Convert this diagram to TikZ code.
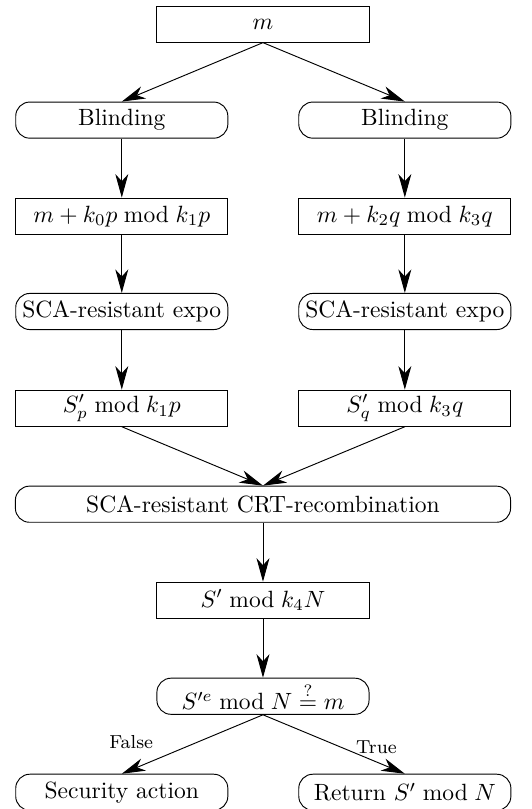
\documentclass[tikz,border=0pt]{standalone}
\usepackage{amsmath,amssymb}
\usepackage{tikz}
\usetikzlibrary{shapes,positioning,arrows.meta}
\tikzset{blk/.style={rectangle,draw,minimum width=3.17cm,minimum height=0.54cm,inner sep=0pt}}
\tikzset{rnd/.style={rectangle,rounded corners=6pt,draw,minimum width=3.17cm,minimum height=0.54cm,inner sep=0pt}}
\tikzset{lbl/.style={font=\footnotesize}}

\begin{document}
\begin{tikzpicture}[>={Stealth[length=10pt,width=5.5pt,inset=3pt]}]
    \useasboundingbox (0,0) rectangle (7.95,-12.09);
    \node[blk] (m)at (3.93,-0.36) {$m$};
    \node[rnd] (bl1)at (1.82,-1.795) {Blinding};
    \node[rnd] (bl2)at (6.05,-1.795) {Blinding};
    \node[blk] (x1)at (1.82,-3.23) {$m+k_0p \bmod k_1p$};
    \node[blk] (x2)at (6.05,-3.23) {$m+k_2q \bmod k_3q$};
    \node[rnd] (e1)at (1.82,-4.655) {SCA-resistant expo};
    \node[rnd] (e2)at (6.05,-4.655) {SCA-resistant expo};
    \node[blk] (s1)at (1.82,-6.10) {$S'_p \bmod k_1p$};
    \node[blk] (s2)at (6.05,-6.10) {$S'_q \bmod k_3q$};
    \node[rnd,minimum width=7.40cm] (crt)at (3.93,-7.535) {SCA-resistant CRT-recombination};
    \node[blk] (sk)at (3.93,-8.97) {$S' \bmod k_4N$};
    \node[rnd] (chk)at (3.93,-10.405) {$S'^e \bmod N \stackrel{?}{=} m$};
    \node[rnd] (sec)at (1.82,-11.84) {Security action};
    \node[rnd] (ret)at (6.05,-11.84) {Return $S' \bmod N$};

    \draw [->] (m.south) to (bl1.north);
    \draw [->] (m.south) to (bl2.north);
    \draw [->] (bl1) to (x1);
    \draw [->] (bl2) to (x2);
    \draw [->] (x1) to (e1);
    \draw [->] (x2) to (e2);
    \draw [->] (e1) to (s1);
    \draw [->] (e2) to (s2);
    \draw [->] (s1.south) to (crt.north);
    \draw [->] (s2.south) to (crt.north);
    \draw [->] (crt) to (sk);
    \draw [->] (sk) to (chk);
    \draw [->] (chk.south) to node[lbl,above left,pos=0.72]{False} (sec.north);
    \draw [->] (chk.south) to node[lbl,above,pos=0.8]{True} (ret.north);
\end{tikzpicture}
\end{document}
